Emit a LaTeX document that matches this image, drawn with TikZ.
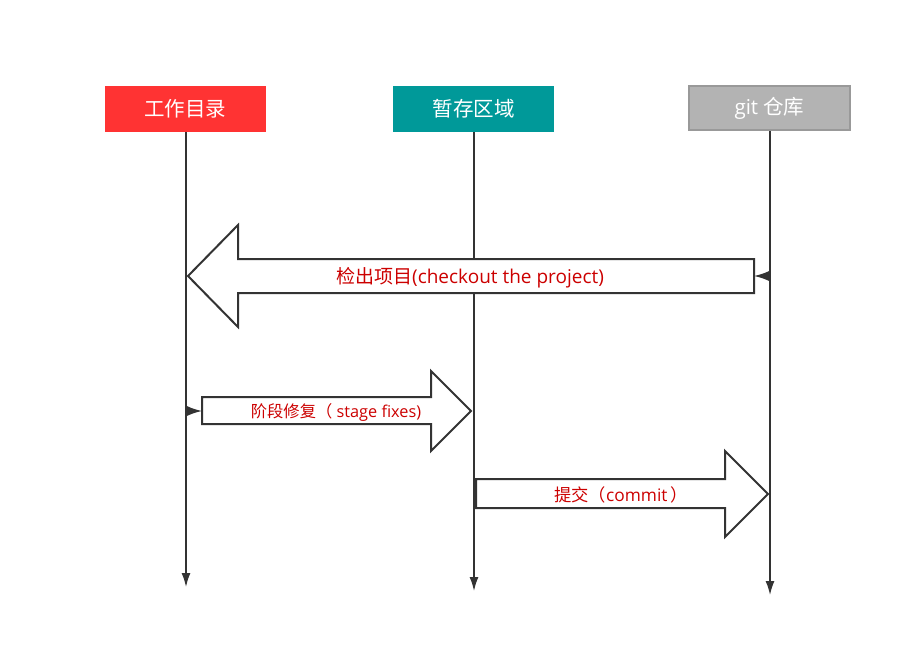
\documentclass[tikz,border=0pt]{standalone}
\usepackage{fontspec}
\setmainfont{Open Sans}
\newfontfamily\cjk{Noto Sans CJK SC}
\usetikzlibrary{arrows.meta}
\definecolor{boxred}{HTML}{FF3333}
\definecolor{boxteal}{HTML}{009999}
\definecolor{boxgray}{HTML}{B3B3B3}
\definecolor{boxgrayline}{HTML}{999999}
\definecolor{lineclr}{HTML}{333333}
\definecolor{lblred}{HTML}{CC0000}
\tikzset{
  lane/.style={minimum width=161pt, minimum height=46pt, inner sep=0pt, text=white, font=\fontsize{20.5}{22}\selectfont},
  lifeline/.style={draw=lineclr, line width=1.5pt, -{Latex[length=14pt,width=9pt]}},
  lead/.style={draw=lineclr, line width=1.5pt, -{Latex[length=15pt,width=10pt]}},
  bigarrow/.style={draw=lineclr, line width=2pt, fill=white, line join=miter},
  lbl/.style={text=lblred, inner sep=0pt},
}
\begin{document}
\begin{tikzpicture}[x=1pt,y=-1pt]
\useasboundingbox[fill=white] (0,0) rectangle (913,654);
% lanes
\node[lane, fill=boxred] (wd) at (185,109) {\cjk 工作目录};
\node[lane, fill=boxteal] (st) at (473.5,109) {\cjk 暂存区域};
\node[lane, fill=boxgray, draw=boxgrayline, line width=1.5pt, minimum width=161pt, minimum height=44pt] (gr) at (769.5,108) {git {\cjk 仓库}};
% lifeline ends
\coordinate (wdend) at (186,587);
\coordinate (stend) at (474,591);
\coordinate (grend) at (770,595);
\draw[lifeline] (wd.south -| wdend) -- (wdend);
\draw[lifeline] (st.south -| stend) -- (stend);
\draw[lifeline] (gr.south -| grend) -- (grend);
% checkout arrow
\draw[bigarrow] (754,259) -- (238,259) -- (238,225) -- (188,276) -- (238,327) -- (238,293) -- (754,293) -- cycle;
\coordinate (cotail) at (754,276);
\draw[lead] (770,276) -- (cotail);
\node[lbl, font=\fontsize{19}{21}\selectfont] (colbl) at (470,278) {{\cjk 检出项目}(checkout the project)};
% stage arrow
\draw[bigarrow] (202,397) -- (431,397) -- (431,371) -- (471,411) -- (431,451) -- (431,424) -- (202,424) -- cycle;
\coordinate (sttail) at (202,411);
\draw[lead] (186,411) -- (sttail);
\node[lbl, font=\fontsize{16.3}{18}\selectfont] (stlbl) at (336,412) {{\cjk 阶段修复（} stage fixes)};
% commit arrow
\draw[bigarrow] (476,479) -- (725,479) -- (725,451) -- (768,494) -- (725,537) -- (725,508) -- (476,508) -- cycle;
\node[lbl, font=\fontsize{17.3}{19}\selectfont] (cmlbl) at (621,495) {{\cjk 提交（}commit\,{\cjk ）}};
\end{tikzpicture}
\end{document}
